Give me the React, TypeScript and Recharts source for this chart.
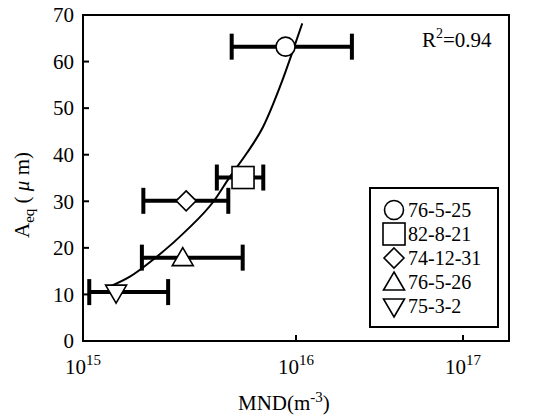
import React from "react";
import { ComposedChart, Scatter, Line, XAxis, YAxis, ErrorBar, Legend, ReferenceArea } from "recharts";

const seriesNames = ["76-5-25", "82-8-21", "74-12-31", "76-5-26", "75-3-2"];
const seriesShapes = ["circle", "square", "diamond", "up", "down"];
const mndCenter = [8.93e15, 5.64e15, 3.05e15, 2.94e15, 1.43e15];
const mndLow = [4.99e15, 4.25e15, 1.92e15, 1.89e15, 1.07e15];
const mndHigh = [1.83e16, 7.02e15, 4.81e15, 5.62e15, 2.51e15];
const aeqValues = [63.2, 35.1, 30.1, 17.9, 10.5];

// fitted curve, points
const fitMnd = [1.34e15, 1.66e15, 2.18e15, 3.07e15, 4.09e15, 4.9e15, 5.87e15, 7.01e15, 8.41e15, 9.7e15, 1.07e16];
const fitAeq = [11.7, 13.8, 17.8, 23.8, 29.9, 35.3, 40.3, 46.0, 54.6, 62.5, 68.2];

const xTicks = [1e15, 1e16, 1e17];
const yTicks = [0, 10, 20, 30, 40, 50, 60, 70];

const FONT = "'Liberation Serif', 'Times New Roman', serif";

const pointData = seriesNames.map((name, i) => ({
  name,
  x: mndCenter[i],
  y: aeqValues[i],
  errorX: [mndCenter[i] - mndLow[i], mndHigh[i] - mndCenter[i]],
}));
const fitData = fitMnd.map((x, i) => ({ x, y: fitAeq[i] }));

function Marker({ kind, cx, cy }: { kind: string; cx: number; cy: number }) {
  const p = { fill: "#fff", stroke: "#000", strokeWidth: 1.6 };
  if (kind === "circle") return <circle cx={cx} cy={cy} r={9.5} {...p} />;
  if (kind === "square") return <rect x={cx - 11} y={cy - 11} width={22} height={22} {...p} />;
  if (kind === "diamond")
    return <polygon points={`${cx},${cy - 10} ${cx + 10},${cy} ${cx},${cy + 10} ${cx - 10},${cy}`} {...p} />;
  if (kind === "up")
    return <polygon points={`${cx},${cy - 10} ${cx + 10.5},${cy + 8} ${cx - 10.5},${cy + 8}`} {...p} />;
  return <polygon points={`${cx},${cy + 11} ${cx + 10.5},${cy - 7} ${cx - 10.5},${cy - 7}`} {...p} />;
}

const XTick = (props: any) => {
  const { x, y, payload } = props;
  const exp = Math.round(Math.log10(payload.value));
  return (
    <g>
      <line x1={x} y1={y} x2={x} y2={y - 6} stroke="#000" strokeWidth={2} />
      <text x={x - 18} y={y + 33} fontFamily={FONT} fontSize={21} fill="#000">
        10
        <tspan dy={-9} fontSize={15}>{exp}</tspan>
      </text>
    </g>
  );
};

const YTick = (props: any) => {
  const { x, y, payload } = props;
  return (
    <g>
      <line x1={x} y1={y} x2={x + 6} y2={y} stroke="#000" strokeWidth={2} />
      <text x={x - 9} y={y} dy="0.35em" textAnchor="end" fontFamily={FONT} fontSize={21} fill="#000">
        {payload.value}
      </text>
    </g>
  );
};

const YTitle = () => (
  <text transform="rotate(-90)" x={-238} y={29} fontFamily={FONT} fontSize={21} fill="#000">
    A
    <tspan fontSize={15} dy={5}>eq</tspan>
    <tspan dy={-5}> ( </tspan>
    <tspan fontStyle="italic">μ</tspan>
    <tspan> m)</tspan>
  </text>
);

const XTitle = () => (
  <text x={238} y={410} fontFamily={FONT} fontSize={21} fill="#000">
    MND(m
    <tspan dy={-8} fontSize={15}>-3</tspan>
    <tspan dy={8}>)</tspan>
  </text>
);

const LegendBox = (props: any) => {
  const shown = (props.payload || []).map((p: any) => p.value);
  const items = seriesNames.filter((n) => shown.includes(n));
  return (
    <svg width={130} height={141} style={{ display: "block" }}>
      <rect x={1} y={1} width={128} height={139} fill="#fff" stroke="#000" strokeWidth={2} />
      {items.map((name, i) => {
        const kind = seriesShapes[seriesNames.indexOf(name)];
        const cy = 23 + i * 24;
        return (
          <g key={name}>
            <Marker kind={kind} cx={25} cy={cy} />
            <text x={39} y={cy} dy="0.35em" fontFamily={FONT} fontSize={20} fill="#000">
              {name}
            </text>
          </g>
        );
      })}
    </svg>
  );
};

export default function App() {
  return (
    <div style={{ position: "absolute", left: 0, top: 0, width: 535, height: 416, background: "#fff" }}>
      <ComposedChart width={535} height={416} margin={{ top: 15, right: 26, bottom: 0, left: 0 }}>
        <XAxis
          dataKey="x"
          type="number"
          scale="log"
          domain={[1e15, 1e17]}
          ticks={xTicks}
          allowDataOverflow
          height={75}
          axisLine={false}
          tickLine={false}
          tickSize={0}
          tickMargin={0}
          tick={<XTick />}
          label={{ content: () => <XTitle /> }}
        />
        <YAxis
          dataKey="y"
          type="number"
          domain={[0, 70]}
          ticks={yTicks}
          allowDataOverflow
          width={83}
          axisLine={false}
          tickLine={false}
          tickSize={0}
          tickMargin={0}
          tick={<YTick />}
          label={{ content: () => <YTitle /> }}
        />
        <ReferenceArea x1={1e15} x2={1e17} y1={0} y2={70} fill="none" stroke="#000" strokeWidth={2} ifOverflow="visible" />
        {pointData.map((d, i) => (
          <Scatter
            key={d.name}
            name={d.name}
            data={[d]}
            isAnimationActive={false}
            shape={(p: any) => <Marker kind={seriesShapes[i]} cx={p.cx} cy={p.cy} />}
          >
            <ErrorBar dataKey="errorX" direction="x" width={13} strokeWidth={4} stroke="#000" />
          </Scatter>
        ))}
        <Line
          data={fitData}
          dataKey="y"
          type="monotone"
          dot={false}
          activeDot={false}
          stroke="#000"
          strokeWidth={2}
          legendType="none"
          isAnimationActive={false}
        />
        <Legend
          layout="horizontal"
          verticalAlign="middle"
          align="center"
          content={<LegendBox />}
          wrapperStyle={{ left: 369, top: 187, width: 130, height: 141 }}
        />
      </ComposedChart>
      <svg width={535} height={416} style={{ position: "absolute", left: 0, top: 0, pointerEvents: "none" }}>
        <text x={422} y={47} fontFamily={FONT} fontSize={21} fill="#000">
          R<tspan dy={-9} fontSize={14}>2</tspan>
          <tspan dy={9}>=0.94</tspan>
        </text>
      </svg>
    </div>
  );
}
